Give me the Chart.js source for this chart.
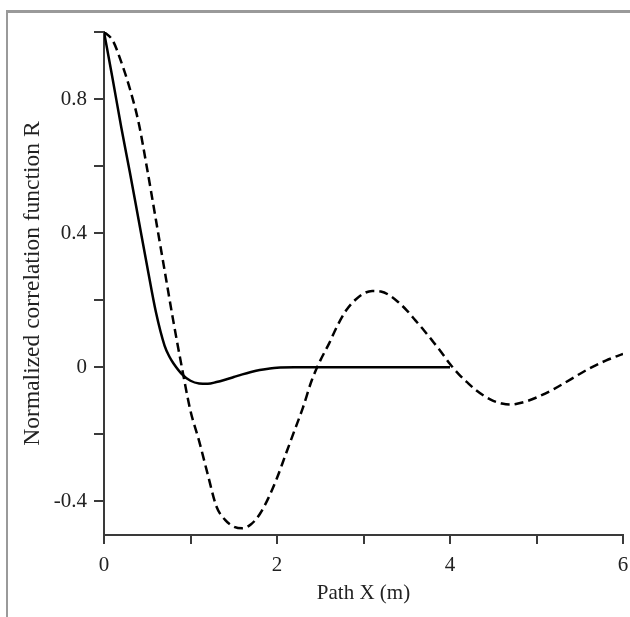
<!DOCTYPE html>
<html>
<head>
<meta charset="utf-8">
<script src="https://cdn.jsdelivr.net/npm/chart.js@4/dist/chart.umd.min.js"></script>
<style>
  html, body { margin: 0; padding: 0; background: #fff; }
  #wrap { position: relative; width: 630px; height: 617px; overflow: hidden; }
  #frame { position: absolute; left: 6px; top: 10px; width: 700px; height: 700px;
           border-left: 2px solid #9a9a9a; border-top: 3px solid #9a9a9a; }
  #c { position: absolute; left: 0; top: 0; }
</style>
</head>
<body>
<div id="wrap">
  <div id="frame"></div>
  <canvas id="c" width="630" height="617"></canvas>
</div>
<script>
// Solid curve
const solidX = [0, 0.1, 0.2, 0.3, 0.4, 0.5, 0.6, 0.7, 0.76, 0.8, 0.9, 1.0, 1.1, 1.2, 1.3, 1.4, 1.5, 1.6, 1.7, 1.8, 1.9, 2.0, 2.2, 2.5, 3.0, 3.5, 4.0];
const solidR = [1.0, 0.86, 0.715, 0.58, 0.44, 0.30, 0.165, 0.065, 0.03, 0.013, -0.02, -0.04, -0.048, -0.049, -0.044, -0.037, -0.029, -0.021, -0.014, -0.008, -0.004, -0.001, 0, 0, 0, 0, 0];
// Dashed curve
const dashX = [0, 0.1, 0.2, 0.3, 0.4, 0.5, 0.6, 0.7, 0.8, 0.9, 1.0, 1.1, 1.2, 1.3, 1.4, 1.5, 1.6, 1.7, 1.8, 1.9, 2.0, 2.1, 2.2, 2.3, 2.4, 2.5, 2.6, 2.7, 2.8, 2.9, 3.0, 3.1, 3.2, 3.3, 3.4, 3.5, 3.6, 3.7, 3.8, 3.9, 4.0, 4.1, 4.2, 4.3, 4.4, 4.5, 4.6, 4.7, 4.8, 4.9, 5.0, 5.2, 5.4, 5.6, 5.8, 6.0];
const dashR = [1.0, 0.975, 0.91, 0.83, 0.73, 0.59, 0.44, 0.29, 0.14, 0.0, -0.13, -0.22, -0.32, -0.415, -0.455, -0.475, -0.48, -0.468, -0.438, -0.39, -0.33, -0.26, -0.19, -0.12, -0.04, 0.02, 0.07, 0.125, 0.17, 0.2, 0.22, 0.228, 0.226, 0.215, 0.195, 0.17, 0.14, 0.11, 0.078, 0.045, 0.01, -0.02, -0.045, -0.068, -0.086, -0.1, -0.108, -0.111, -0.107, -0.1, -0.09, -0.065, -0.035, -0.005, 0.02, 0.04];

const xTicks = [0, 1, 2, 3, 4, 5, 6];
const xTickLabels = ['0', '', '2', '', '4', '', '6'];
const yTicks = [-0.4, -0.2, 0, 0.2, 0.4, 0.6, 0.8, 1.0];
const yTickLabels = ['-0.4', '', '0', '', '0.4', '', '0.8', ''];

const xTitle = 'Path X (m)';
const yTitle = 'Normalized correlation function R';

const toPts = (xs, ys) => xs.map((x, i) => ({ x: x, y: ys[i] }));
const axisColor = '#3a3a3a';
const textColor = '#222';
const FONT = "'Liberation Serif', 'Times New Roman', serif";

new Chart(document.getElementById('c'), {
  type: 'scatter',
  data: {
    datasets: [
      { data: toPts(solidX, solidR), showLine: true, borderColor: '#000', borderWidth: 2.5,
        pointRadius: 0, cubicInterpolationMode: 'monotone', fill: false },
      { data: toPts(dashX, dashR), showLine: true, borderColor: '#000', borderWidth: 2.5,
        borderDash: [9, 5], pointRadius: 0, cubicInterpolationMode: 'monotone', fill: false }
    ]
  },
  options: {
    responsive: false,
    animation: false,
    layout: { padding: { left: 0, top: 32, right: 0, bottom: 0 } },
    plugins: { legend: { display: false }, tooltip: { enabled: false } },
    scales: {
      x: {
        type: 'linear', min: 0, max: 6,
        afterBuildTicks: s => { s.ticks = xTicks.map(v => ({ value: v })); },
        afterFit: s => { s.height = 82; s.paddingRight = 7; s.paddingLeft = 0; },
        ticks: {
          autoSkip: false, maxRotation: 0, padding: 9, color: textColor,
          font: { family: FONT, size: 21 },
          callback: (v) => { const i = xTicks.findIndex(t => Math.abs(t - v) < 1e-9); return i >= 0 ? xTickLabels[i] : ''; }
        },
        grid: { drawOnChartArea: false, drawTicks: true, tickLength: 9, color: axisColor, lineWidth: 2 },
        border: { display: true, color: axisColor, width: 2 },
        title: { display: true, text: xTitle, color: textColor, font: { family: FONT, size: 21 },
                 padding: { top: 0, bottom: 11 } }
      },
      y: {
        type: 'linear', min: -0.5, max: 1.0,
        afterBuildTicks: s => { s.ticks = yTicks.map(v => ({ value: v })); },
        afterFit: s => { s.width = 104; },
        ticks: {
          autoSkip: false, padding: 7, color: textColor,
          font: { family: FONT, size: 21 },
          callback: (v) => { const i = yTicks.findIndex(t => Math.abs(t - v) < 1e-9); return i >= 0 ? yTickLabels[i] : ''; }
        },
        grid: { drawOnChartArea: false, drawTicks: true, tickLength: 10, color: axisColor, lineWidth: 2 },
        border: { display: true, color: axisColor, width: 2 },
        title: { display: true, text: yTitle, color: textColor, font: { family: FONT, size: 23.5 },
                 padding: { top: 19, bottom: 0 } }
      }
    }
  }
});
</script>
</body>
</html>
